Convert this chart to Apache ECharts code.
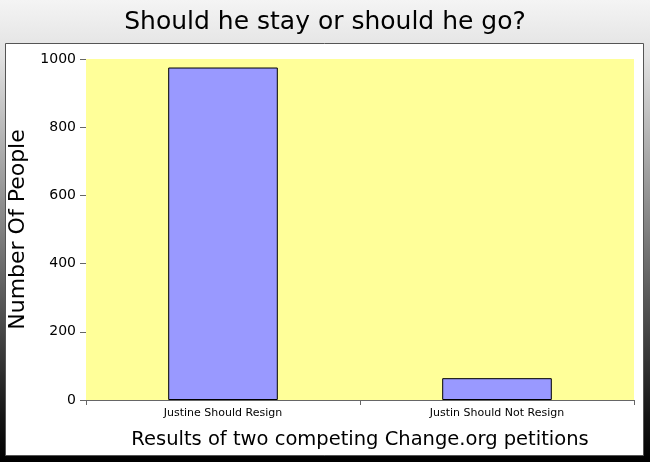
<!DOCTYPE html>
<html><head><meta charset="utf-8">
<script src="https://cdn.jsdelivr.net/npm/echarts@6/dist/echarts.min.js"></script>
<style>html,body{margin:0;padding:0;}#c{width:650px;height:462px;}</style>
</head><body><div id="c"></div>
<script>
const categories = ["Justine Should Resign", "Justin Should Not Resign"];
const values = [975, 64];
const yTicks = [0, 200, 400, 600, 800, 1000];

const chart = echarts.init(document.getElementById('c'));
chart.setOption({
  animation: false,
  backgroundColor: new echarts.graphic.LinearGradient(0, 0, 0, 1, [
    {offset: 0, color: '#f4f4f4'},
    {offset: 0.12, color: '#e2e2e2'},
    {offset: 0.5, color: '#808080'},
    {offset: 0.9, color: '#151515'},
    {offset: 1, color: '#000000'}
  ]),
  graphic: [{
    type: 'rect', z: -10, silent: true,
    shape: {x: 5.5, y: 43.5, width: 638, height: 412},
    style: {fill: '#ffffff', stroke: '#555555', lineWidth: 1}
  }],
  title: {
    text: 'Should he stay or should he go?',
    left: 'center', top: 5,
    textStyle: {fontFamily: 'DejaVu Sans', fontSize: 25, fontWeight: 'normal', color: '#000'}
  },
  grid: {left: 86, right: 16, top: 59, bottom: 62, show: true, backgroundColor: '#ffff99', borderWidth: 0,
    containLabel: false, outerBoundsMode: 'none'},
  xAxis: {
    type: 'category', data: categories,
    name: 'Results of two competing Change.org petitions',
    nameLocation: 'middle', nameGap: 30,
    nameTextStyle: {fontFamily: 'DejaVu Sans', fontSize: 19.5, color: '#000'},
    axisLine: {show: true, lineStyle: {color: '#666', width: 1}},
    axisTick: {show: true, length: 5, lineStyle: {color: '#666'}},
    axisLabel: {fontFamily: 'DejaVu Sans', fontSize: 11, color: '#000', margin: 8}
  },
  yAxis: {
    type: 'value', min: 0, max: 1000, interval: 200,
    name: 'Number Of People', nameLocation: 'middle', nameRotate: 90, nameGap: 57,
    nameTextStyle: {fontFamily: 'DejaVu Sans', fontSize: 22, color: '#000'},
    axisLine: {show: false},
    axisTick: {show: true, length: 6, lineStyle: {color: '#666'}},
    splitLine: {show: false},
    axisLabel: {fontFamily: 'DejaVu Sans', fontSize: 14, color: '#000', margin: 10,
      formatter: v => yTicks.includes(v) ? String(v) : ''}
  },
  series: [{
    type: 'bar', data: values, barWidth: '40%',
    itemStyle: {color: '#9999ff', borderColor: '#000', borderWidth: 1}
  }]
});
</script></body></html>
